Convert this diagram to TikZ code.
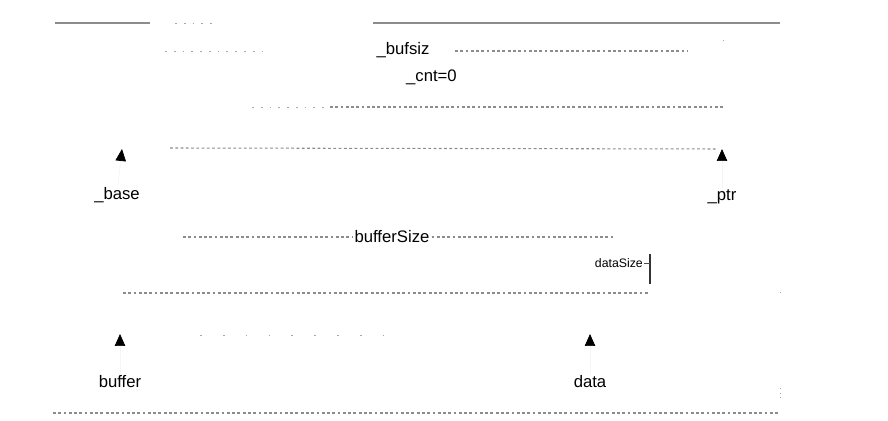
\documentclass[tikz,border=0pt]{standalone}
\usepackage{fontspec}
\setmainfont{Liberation Sans}
\usetikzlibrary{positioning}
\usetikzlibrary{arrows.meta}

\tikzset{
    edgeline/.style={draw=black!45, line width=0.7pt},
    faintline/.style={draw=black!45, line width=0.6pt, dash pattern=on 1.6pt off 1.4pt},
    thinline/.style={draw=black!35, line width=0.5pt, dash pattern=on 1pt off 4pt},
    label/.style={inner sep=1pt, font=\fontsize{9.5}{11}\selectfont},
    smalllabel/.style={inner sep=0.5pt, font=\fontsize{7}{8}\selectfont},
    ptrarrow/.style={draw=black!4, line width=0.4pt, -{Triangle[black, length=2.4mm, width=2.1mm]}},
}

\begin{document}
\begin{tikzpicture}[x=0.02cm, y=-0.02cm]
    \useasboundingbox (0,0) rectangle (888,421);

    % top edge of the stream buffer
    \coordinate (t1) at (55,23);
    \coordinate (t2) at (150,23);
    \coordinate (t3) at (175,23);
    \coordinate (t4) at (212,23);
    \coordinate (t5) at (373,23);
    \coordinate (t6) at (780,23);
    \draw[edgeline] (t1) -- (t2);
    \draw[thinline] (t3) -- (t4);
    \draw[edgeline] (t5) -- (t6);

    % stream fields
    \node[label] (bufsiz) at (403,50) {\_bufsiz};
    \node[label, below right=0.15cm and -0.55cm of bufsiz] (cnt) {\_cnt=0};
    \coordinate (s1) at (165,51);
    \coordinate (s2) at (270,51);
    \coordinate (s3) at (455,51);
    \coordinate (s4) at (688,51);
    \draw[thinline] (s1) -- (s2);
    \draw[faintline] (s3) -- (s4);
    \coordinate (r1) at (723,40);
    \coordinate (r2) at (723,80);
    \draw[thinline, dash pattern=on 0.6pt off 32pt] (r1) -- (r2);

    \coordinate (m1) at (252,107);
    \coordinate (m2) at (330,107);
    \coordinate (m3) at (723,107);
    \draw[thinline] (m1) -- (m2);
    \draw[faintline] (m2) -- (m3);

    % pointers into the stream buffer
    \coordinate (basetip) at (122,149);
    \coordinate (ptrtip) at (722,149);
    \node[label] (base) at (117,195) {\_base};
    \node[label] (ptr) at (722,197) {\_ptr};
    \draw[ptrarrow] (base) -- (basetip);
    \draw[ptrarrow] (ptr) -- (ptrtip);
    \coordinate (p1) at (170,148);
    \draw[faintline] (p1) -- ([xshift=-0.1cm]ptrtip);

    % user buffer
    \node[label, fill=white] (bsize) at (392,237) {bufferSize};
    \coordinate (b1) at (183,237);
    \coordinate (b2) at (613,237);
    \draw[faintline] (b1) -- (bsize) -- (b2);

    \coordinate (d1) at (650,254);
    \coordinate (d2) at (650,284);
    \draw[black!80, line width=0.6pt] (d1) -- (d2);
    \node[smalllabel, left=0.12cm of d1, yshift=-0.18cm] (dsize) {dataSize};
    \draw[black!70, line width=0.4pt] (dsize) -- (dsize -| d1);

    \coordinate (u1) at (123,293);
    \draw[faintline] (u1) -- (u1 -| d1);
    \coordinate (u2) at (780,292);
    \draw[thinline, dash pattern=on 0.6pt off 30pt] (u2) -- ++(0,2);

    \coordinate (v1) at (200,335);
    \coordinate (v2) at (390,335);
    \draw[thinline, dash pattern=on 1pt off 12pt] (v1) -- (v2);

    \coordinate (buftip) at (120,334);
    \coordinate (datatip) at (590,334);
    \node[label] (buffer) at (120,382) {buffer};
    \node[label] (data) at (590,382) {data};
    \draw[ptrarrow] (buffer) -- (buftip);
    \draw[ptrarrow] (data) -- (datatip);

    \coordinate (w1) at (780,388);
    \coordinate (w2) at (780,399);
    \draw[thinline, dash pattern=on 0.6pt off 2pt] (w1) -- (w2);

    % bottom edge
    \coordinate (e1) at (53,413);
    \coordinate (e2) at (780,413);
    \draw[faintline] (e1) -- (e2);
\end{tikzpicture}
\end{document}
